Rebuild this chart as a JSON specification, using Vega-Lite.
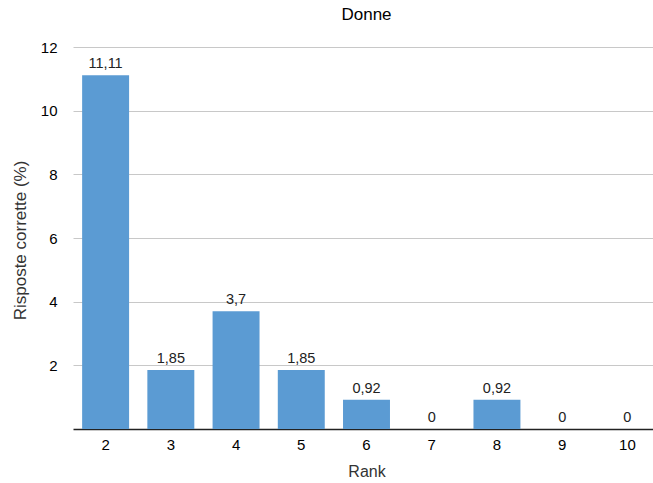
{
  "$schema": "https://vega.github.io/schema/vega-lite/v6.json",
  "autosize": "none",
  "width": 587,
  "height": 382,
  "padding": {"left": 73, "top": 47, "right": 0, "bottom": 54},
  "title": {"text": "Donne", "fontSize": 17, "fontWeight": "normal", "font": "Liberation Sans", "color": "#000000", "offset": 16},
  "config": {
    "locale": {"number": {"decimal": ",", "thousands": ".", "grouping": [3], "currency": ["", " €"]}},
    "view": {"stroke": null},
    "font": "Liberation Sans"
  },
  "data": {
    "values": [
      {"rank": "2", "pct": 11.11},
      {"rank": "3", "pct": 1.85},
      {"rank": "4", "pct": 3.7},
      {"rank": "5", "pct": 1.85},
      {"rank": "6", "pct": 0.92},
      {"rank": "7", "pct": 0},
      {"rank": "8", "pct": 0.92},
      {"rank": "9", "pct": 0},
      {"rank": "10", "pct": 0}
    ]
  },
  "encoding": {
    "x": {
      "field": "rank",
      "type": "ordinal",
      "sort": null,
      "scale": {"paddingInner": 0.28, "paddingOuter": 0.14},
      "axis": {
        "title": "Rank",
        "titleFontSize": 16,
        "titleFontWeight": "normal",
        "titleColor": "#333333",
        "titleBaseline": "middle",
        "titleY": 42,
        "labelAngle": 0,
        "labelFontSize": 15,
        "labelColor": "#000000",
        "labelPadding": 8,
        "ticks": false,
        "domainColor": "#222222",
        "domainWidth": 1.5
      }
    },
    "y": {
      "field": "pct",
      "type": "quantitative",
      "scale": {"domain": [0, 12], "nice": false},
      "axis": {
        "title": "Risposte corrette (%)",
        "titleFontSize": 17,
        "titleFontWeight": "normal",
        "titleColor": "#333333",
        "titleAlign": "center",
        "titleBaseline": "middle",
        "titleAngle": -90,
        "titleX": -53,
        "titleY": 193,
        "values": [2, 4, 6, 8, 10, 12],
        "labelFontSize": 15,
        "labelColor": "#000000",
        "labelPadding": 16,
        "ticks": false,
        "domain": false,
        "gridColor": "#c8c8c8",
        "gridWidth": 1
      }
    }
  },
  "layer": [
    {"mark": {"type": "bar", "color": "#5b9bd3"}},
    {
      "mark": {"type": "text", "baseline": "bottom", "dy": -4, "fontSize": 14.5, "color": "#222222"},
      "encoding": {"text": {"field": "pct", "type": "quantitative", "format": ".4~g"}}
    }
  ]
}
